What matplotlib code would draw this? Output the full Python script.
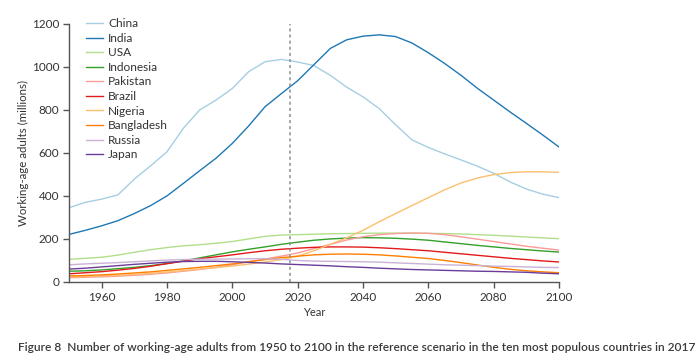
import matplotlib
matplotlib.use("Agg")
import matplotlib.pyplot as plt

plt.rcParams['font.family'] = ['Lato', 'DejaVu Sans']

# years every 5 from 1950 to 2100
years = list(range(1950, 2101, 5))

china = [345, 370, 385, 405, 478, 540, 605, 714, 799, 845, 899, 977, 1023, 1034, 1022,
         1005, 960, 905, 860, 805, 730, 660, 625, 595, 567, 538, 505, 465, 432, 408, 392]
india = [221, 240, 261, 285, 318, 355, 400, 458, 517, 575, 644, 725, 814, 875, 935,
         1010, 1085, 1125, 1142, 1148, 1140, 1110, 1065, 1015, 960, 900, 845, 790, 737, 683, 627]
usa = [105, 110, 115, 125, 138, 150, 160, 168, 173, 180, 188, 200, 212, 218, 220,
       222, 224, 225, 226, 227, 227, 227, 226, 225, 223, 220, 217, 213, 209, 205, 201]
indonesia = [50, 52, 56, 62, 68, 76, 86, 98, 112, 126, 140, 152, 163, 175, 185,
             194, 200, 204, 206, 205, 203, 199, 194, 186, 178, 170, 163, 156, 150, 144, 139]
pakistan = [20, 22, 24, 27, 31, 36, 42, 50, 58, 68, 80, 94, 107, 120, 135,
            155, 175, 195, 210, 220, 225, 227, 226, 220, 210, 199, 188, 177, 166, 157, 148]
brazil = [38, 43, 48, 55, 63, 73, 85, 97, 108, 117, 126, 136, 145, 152, 157,
          161, 163, 163, 162, 159, 155, 150, 145, 138, 131, 124, 117, 110, 104, 98, 93]
nigeria = [23, 25, 28, 31, 35, 40, 46, 53, 60, 67, 74, 83, 93, 104, 120,
           145, 175, 205, 240, 280, 318, 355, 392, 428, 460, 483, 499, 508, 512, 512, 509]
bangladesh = [28, 30, 33, 37, 42, 47, 54, 61, 68, 76, 84, 94, 104, 113, 120,
              126, 129, 130, 129, 126, 121, 115, 109, 100, 90, 79, 68, 59, 52, 47, 43]
russia = [80, 84, 87, 90, 94, 98, 102, 104, 106, 106, 107, 108, 108, 105, 100,
          97, 96, 95, 94, 92, 89, 86, 83, 80, 78, 76, 74, 72, 70, 68, 67]
japan = [60, 64, 70, 76, 82, 87, 92, 95, 96, 96, 94, 91, 88, 84, 81,
         78, 75, 71, 68, 64, 61, 58, 56, 54, 52, 50, 49, 47, 45, 41, 38]

countries = ['China', 'India', 'USA', 'Indonesia', 'Pakistan',
             'Brazil', 'Nigeria', 'Bangladesh', 'Russia', 'Japan']
series = [china, india, usa, indonesia, pakistan, brazil, nigeria, bangladesh, russia, japan]
colors = ['#a6cee3', '#1f78b4', '#b2df8a', '#33a02c', '#fb9a99',
          '#e31a1c', '#fdbf6f', '#ff7f00', '#cab2d6', '#6a3d9a']

fig = plt.figure(figsize=(7, 3.64), dpi=100)
ax = fig.add_axes([0.0986, 0.2253, 0.70, 0.7097])

for name, vals, c in zip(countries, series, colors):
    ax.plot(years, vals, color=c, lw=1.0, label=name)

# forecast start
ax.axvline(2017.5, color='#8a8f96', lw=1.1, ls=(0, (2, 2)))

ax.set_xlim(1950, 2100)
ax.set_ylim(0, 1200)
ax.set_xticks(range(1960, 2101, 20))
ax.set_yticks(range(0, 1201, 200))

for s in ['top', 'right']:
    ax.spines[s].set_visible(False)
for s in ['left', 'bottom']:
    ax.spines[s].set_color('#555555')
    ax.spines[s].set_linewidth(1.0)
ax.tick_params(direction='out', length=4, width=1, color='#555555',
               labelsize=8.5, labelcolor='#333333', pad=3)

ax.set_xlabel('Year', fontsize=8, color='#333333', labelpad=3)
ax.set_ylabel('Working-age adults (millions)', fontsize=8.3, color='#333333', labelpad=2)

ax.legend(loc='upper left', bbox_to_anchor=(0.024, 1.04), frameon=False,
          fontsize=8.6, handlelength=1.45, handletextpad=0.45,
          labelspacing=0.3, borderaxespad=0, labelcolor='#333333')

fig.text(0.026, 0.035, 'Figure 8  Number of working-age adults from 1950 to 2100 in the reference scenario in the ten most populous countries in 2017',
         fontsize=8.6, color='#3a3a3a', fontweight='semibold')

fig.savefig('out.png', dpi=100)
